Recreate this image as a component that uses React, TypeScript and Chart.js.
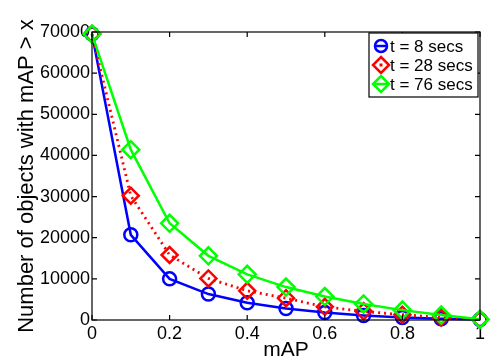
import React, { useEffect, useRef } from "react";
import { Chart, registerables } from "chart.js";

Chart.register(...registerables);

const xValues = [0, 0.1, 0.2, 0.3, 0.4, 0.5, 0.6, 0.7, 0.8, 0.9, 1.0];
const blueValues = [69500, 20700, 10000, 6300, 4200, 2800, 1800, 1100, 600, 300, 100];
const redValues = [69500, 30200, 15800, 10100, 7100, 5300, 3200, 2100, 1300, 600, 150];
const greenValues = [69500, 41400, 23500, 15600, 11100, 8000, 5700, 3900, 2400, 1200, 200];
const seriesLabels = ["t = 8 secs", "t = 28 secs", "t = 76 secs"];
const xTickLabels: Record<string, string> = { "0": "0", "0.2": "0.2", "0.4": "0.4", "0.6": "0.6", "0.8": "0.8", "1": "1" };

const FONT = "'Liberation Sans', Arial, sans-serif";

const toPts = (vals: number[]) => vals.map((v, i) => ({ x: xValues[i], y: v }));

const boxPlugin = {
  id: "boxPlugin",
  afterDraw(chart: any) {
    const { ctx, chartArea: a, scales } = chart;
    ctx.save();
    ctx.strokeStyle = "#000";
    ctx.lineWidth = 1.2;
    ctx.strokeRect(a.left, a.top, a.right - a.left, a.bottom - a.top);
    const tl = 5;
    ctx.beginPath();
    scales.x.ticks.forEach((t: any) => {
      const px = scales.x.getPixelForValue(t.value);
      ctx.moveTo(px, a.bottom);
      ctx.lineTo(px, a.bottom - tl);
      ctx.moveTo(px, a.top);
      ctx.lineTo(px, a.top + tl);
    });
    scales.y.ticks.forEach((t: any) => {
      const py = scales.y.getPixelForValue(t.value);
      ctx.moveTo(a.left, py);
      ctx.lineTo(a.left + tl, py);
      ctx.moveTo(a.right, py);
      ctx.lineTo(a.right - tl, py);
    });
    ctx.stroke();

    // legend
    const lx = 369, ly = 33, lw = 109, lh = 64;
    ctx.fillStyle = "#fff";
    ctx.fillRect(lx, ly, lw, lh);
    ctx.strokeStyle = "#000";
    ctx.lineWidth = 1.2;
    ctx.strokeRect(lx, ly, lw, lh);
    ctx.font = `17px ${FONT}`;
    ctx.textBaseline = "middle";
    const colors = ["#0000ff", "#ff0000", "#00ff00"];
    const rows = [46, 65, 84];
    rows.forEach((ry, i) => {
      const mx = 381;
      ctx.strokeStyle = colors[i];
      ctx.lineWidth = 2.5;
      ctx.beginPath();
      if (i === 0) {
        ctx.arc(mx, ry, 6, 0, Math.PI * 2);
      } else {
        ctx.moveTo(mx, ry - 8);
        ctx.lineTo(mx + 8, ry);
        ctx.lineTo(mx, ry + 8);
        ctx.lineTo(mx - 8, ry);
        ctx.closePath();
      }
      ctx.stroke();
      ctx.beginPath();
      if (i === 1) {
        ctx.fillStyle = colors[i];
        ctx.fillRect(mx - 1.5, ry - 1.5, 3, 3);
      } else {
        ctx.moveTo(mx - 6, ry);
        ctx.lineTo(mx + 6, ry);
        ctx.stroke();
      }
      ctx.fillStyle = "#000";
      ctx.fillText(seriesLabels[i], 390, ry + 1);
    });
    ctx.restore();
  },
};

export default function App() {
  const ref = useRef<HTMLCanvasElement>(null);
  useEffect(() => {
    if (!ref.current) return;
    const chart = new Chart(ref.current, {
      type: "line",
      data: {
        datasets: [
          {
            label: seriesLabels[0],
            data: toPts(blueValues),
            borderColor: "#0000ff",
            borderWidth: 2.5,
            pointStyle: "circle",
            pointRadius: 6.5,
            pointBorderWidth: 2.5,
            pointBorderColor: "#0000ff",
            pointBackgroundColor: "rgba(0,0,0,0)",
            tension: 0,
            clip: false as any,
            order: 2,
          },
          {
            label: seriesLabels[1],
            data: toPts(redValues),
            borderColor: "#ff0000",
            borderWidth: 2.8,
            borderDash: [2, 4],
            pointStyle: "rectRot",
            pointRadius: 8,
            pointBorderWidth: 2.5,
            pointBorderColor: "#ff0000",
            pointBackgroundColor: "rgba(0,0,0,0)",
            tension: 0,
            clip: false as any,
            order: 1,
          },
          {
            label: seriesLabels[2],
            data: toPts(greenValues),
            borderColor: "#00ff00",
            borderWidth: 2.5,
            pointStyle: "rectRot",
            pointRadius: 8.5,
            pointBorderWidth: 2.5,
            pointBorderColor: "#00ff00",
            pointBackgroundColor: "rgba(0,0,0,0)",
            tension: 0,
            clip: false as any,
            order: 0,
          },
        ],
      },
      options: {
        animation: false,
        responsive: false,
        layout: { padding: { top: 32, right: 24, left: 0, bottom: 0 } },
        plugins: { legend: { display: false }, tooltip: { enabled: false } },
        scales: {
          x: {
            type: "linear",
            min: 0,
            max: 1,
            grid: { display: false, drawTicks: false },
            border: { display: false },
            ticks: {
              stepSize: 0.2,
              color: "#000",
              font: { family: FONT, size: 18 },
              padding: 3,
              maxRotation: 0,
              callback: (v: any) => xTickLabels[String(Math.round(v * 10) / 10)] ?? "",
            },
            title: {
              display: true,
              text: "mAP",
              color: "#000",
              font: { family: FONT, size: 21 },
              padding: { top: 0, bottom: -2 },
            },
            afterFit: (s: any) => {
              s.height = 41;
            },
          },
          y: {
            type: "linear",
            min: 0,
            max: 70000,
            grid: { display: false, drawTicks: false },
            border: { display: false },
            ticks: {
              stepSize: 10000,
              color: "#000",
              font: { family: FONT, size: 18 },
              padding: 2,
              callback: (v: any) => String(v),
            },
            title: {
              display: true,
              text: "Number of objects with mAP > x",
              color: "#000",
              font: { family: FONT, size: 22 },
              padding: { top: 14, bottom: 0 },
            },
            afterFit: (s: any) => {
              s.width = 92;
            },
          },
        },
      },
      plugins: [boxPlugin],
    });
    return () => chart.destroy();
  }, []);
  return (
    <div style={{ position: "absolute", left: 0, top: 0, width: 504, height: 361, background: "#fff" }}>
      <canvas ref={ref} width={504} height={361} style={{ width: 504, height: 361 }} />
    </div>
  );
}
